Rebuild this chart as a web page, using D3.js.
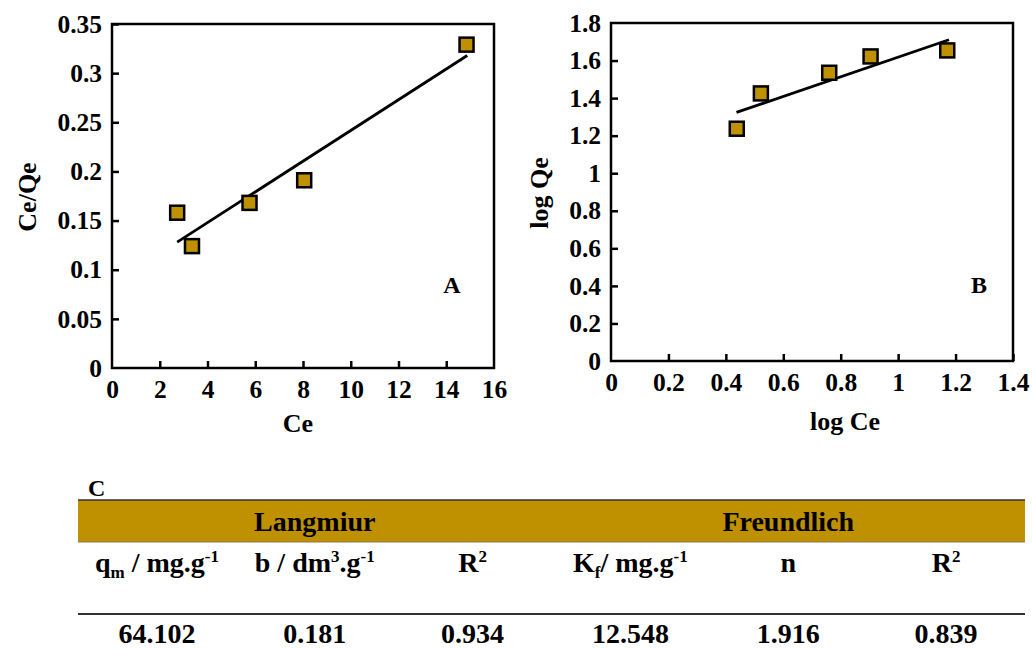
<!DOCTYPE html>
<html>
<head>
<meta charset="utf-8">
<script src="https://cdn.jsdelivr.net/npm/d3@7"></script>
<style>
  body { margin: 0; background: #fff; }
</style>
</head>
<body>
<div id="chart"></div>
<script>
var svgWidth = 1032;
var svgHeight = 649;

// panel A - Langmuir
var ceA = [2.73, 3.35, 5.76, 8.05, 14.85];
var ceQeA = [0.158, 0.124, 0.168, 0.191, 0.329];
var fitAx = [2.73, 14.88];
var fitAy = [0.128, 0.318];

// panel B - Freundlich
var logCe = [0.438, 0.522, 0.760, 0.904, 1.171];
var logQe = [1.237, 1.425, 1.535, 1.622, 1.654];
var fitBx = [0.437, 1.177];
var fitBy = [1.324, 1.711];

// table C
var groups = ["Langmiur", "Freundlich"];
var colHeads = [
    [["q", ""], ["m", "sub"], [" / mg.g", ""], ["-1", "sup"]],
    [["b / dm", ""], ["3", "sup"], [".g", ""], ["-1", "sup"]],
    [["R", ""], ["2", "sup"]],
    [["K", ""], ["f", "sub"], ["/ mg.g", ""], ["-1", "sup"]],
    [["n", ""]],
    [["R", ""], ["2", "sup"]]
];
var colValues = ["64.102", "0.181", "0.934", "12.548", "1.916", "0.839"];

var gold = "#BF9000";
var serif = "Liberation Serif";

var svg = d3.select("#chart")
    .append("svg")
    .attr("width", svgWidth)
    .attr("height", svgHeight);

function drawPanel(opts) {
    var x = d3.scaleLinear().domain(opts.xDomain).range([opts.left, opts.right]);
    var y = d3.scaleLinear().domain(opts.yDomain).range([opts.bottom, opts.top]);
    var g = svg.append("g");

    var fmt = d => String(+d.toFixed(2));

    var xAxis = g.append("g")
        .attr("transform", `translate(0, ${opts.bottom})`)
        .call(d3.axisBottom(x).tickValues(opts.xTicks).tickSize(-7).tickPadding(12).tickFormat(fmt));
    var yAxis = g.append("g")
        .attr("transform", `translate(${opts.left}, 0)`)
        .call(d3.axisLeft(y).tickValues(opts.yTicks).tickSize(-7).tickPadding(10).tickFormat(fmt));

    [xAxis, yAxis].forEach(function (a) {
        a.attr("font-family", null).attr("font-size", null);
        a.select(".domain").remove();
        a.selectAll(".tick line").attr("stroke", "#000").attr("stroke-width", 2.5);
        a.selectAll(".tick text").style("font-size", "25.5px");
    });
    // no tick marks on the box corners
    xAxis.selectAll(".tick line").filter(d => d === opts.xDomain[0] || d === opts.xDomain[1]).remove();
    yAxis.selectAll(".tick line").filter(d => d === opts.yDomain[0] || d === opts.yDomain[1]).remove();

    g.append("rect")
        .attr("x", opts.left)
        .attr("y", opts.top)
        .attr("width", opts.right - opts.left)
        .attr("height", opts.bottom - opts.top)
        .attr("fill", "none")
        .attr("stroke", "#000")
        .attr("stroke-width", 2.5);

    g.append("line")
        .attr("x1", x(opts.fitX[0])).attr("y1", y(opts.fitY[0]))
        .attr("x2", x(opts.fitX[1])).attr("y2", y(opts.fitY[1]))
        .attr("stroke", "#000")
        .attr("stroke-width", 2.8);

    var pts = opts.xs.map((d, i) => [d, opts.ys[i]]);
    g.selectAll(".pt")
        .data(pts)
        .enter()
        .append("rect")
        .attr("class", "pt")
        .attr("x", d => x(d[0]) - 7)
        .attr("y", d => y(d[1]) - 7)
        .attr("width", 14)
        .attr("height", 14)
        .attr("fill", gold)
        .attr("stroke", "#000")
        .attr("stroke-width", 2.5);

    g.append("text")
        .attr("x", opts.xLabelPos[0])
        .attr("y", opts.xLabelPos[1])
        .attr("text-anchor", "middle")
        .style("font-size", "26px")
        .text(opts.xLabel);

    g.append("text")
        .attr("transform", `translate(${opts.yLabelPos[0]}, ${opts.yLabelPos[1]}) rotate(-90)`)
        .attr("text-anchor", "middle")
        .style("font-size", "26px")
        .text(opts.yLabel);

    g.append("text")
        .attr("x", opts.tagPos[0])
        .attr("y", opts.tagPos[1])
        .attr("text-anchor", "middle")
        .style("font-size", "24px")
        .text(opts.tag);
}

drawPanel({
    left: 112, right: 494, top: 24, bottom: 368,
    xDomain: [0, 16], yDomain: [0, 0.35],
    xTicks: d3.range(0, 17, 2), yTicks: d3.range(0, 0.351, 0.05),
    xs: ceA, ys: ceQeA, fitX: fitAx, fitY: fitAy,
    xLabel: "Ce", yLabel: "Ce/Qe",
    xLabelPos: [298, 432], yLabelPos: [36, 197],
    tag: "A", tagPos: [452, 293]
});

drawPanel({
    left: 611, right: 1013, top: 23, bottom: 361,
    xDomain: [0, 1.4], yDomain: [0, 1.8],
    xTicks: d3.range(0, 1.41, 0.2), yTicks: d3.range(0, 1.81, 0.2),
    xs: logCe, ys: logQe, fitX: fitBx, fitY: fitBy,
    xLabel: "log Ce", yLabel: "log Qe",
    xLabelPos: [845, 430], yLabelPos: [548, 193],
    tag: "B", tagPos: [979, 293]
});

// Table C
var tLeft = 78, tRight = 1025;
var col = d3.scaleBand().domain(d3.range(colValues.length)).range([tLeft, tRight]);
var cx = i => col(i) + col.bandwidth() / 2;

svg.append("text")
    .attr("x", 88)
    .attr("y", 496)
    .style("font-size", "24px")
    .text("C");

svg.append("rect")
    .attr("x", tLeft).attr("y", 500)
    .attr("width", tRight - tLeft).attr("height", 42)
    .attr("fill", gold);

svg.append("line")
    .attr("x1", tLeft).attr("x2", tRight)
    .attr("y1", 500).attr("y2", 500)
    .attr("stroke", "#333").attr("stroke-width", 1.5);
svg.append("line")
    .attr("x1", tLeft).attr("x2", tRight)
    .attr("y1", 542).attr("y2", 542)
    .attr("stroke", "#8a7a50").attr("stroke-width", 1);
svg.append("line")
    .attr("x1", tLeft).attr("x2", tRight)
    .attr("y1", 614).attr("y2", 614)
    .attr("stroke", "#333").attr("stroke-width", 2);

svg.selectAll(".grp")
    .data(groups)
    .enter()
    .append("text")
    .attr("class", "grp")
    .attr("x", (d, i) => cx(i * 3 + 1))
    .attr("y", 531)
    .attr("text-anchor", "middle")
    .style("font-size", "28px")
    .text(d => d);

var heads = svg.selectAll(".head")
    .data(colHeads)
    .enter()
    .append("text")
    .attr("class", "head")
    .attr("x", (d, i) => cx(i))
    .attr("y", 572)
    .attr("text-anchor", "middle")
    .style("font-size", "28px");

heads.each(function (parts) {
    var t = d3.select(this);
    var shift = 0;
    parts.forEach(function (p) {
        var target = p[1] === "sup" ? -10 : p[1] === "sub" ? 6 : 0;
        var ts = t.append("tspan").text(p[0]).attr("dy", target - shift);
        if (p[1]) ts.style("font-size", "17px");
        shift = target;
    });
});

svg.selectAll(".val")
    .data(colValues)
    .enter()
    .append("text")
    .attr("class", "val")
    .attr("x", (d, i) => cx(i))
    .attr("y", 643)
    .attr("text-anchor", "middle")
    .style("font-size", "28px")
    .text(d => d);

// serif bold everywhere
svg.selectAll("text")
    .style("font-family", serif)
    .style("font-weight", "bold")
    .attr("fill", "#000");
</script>
</body>
</html>
